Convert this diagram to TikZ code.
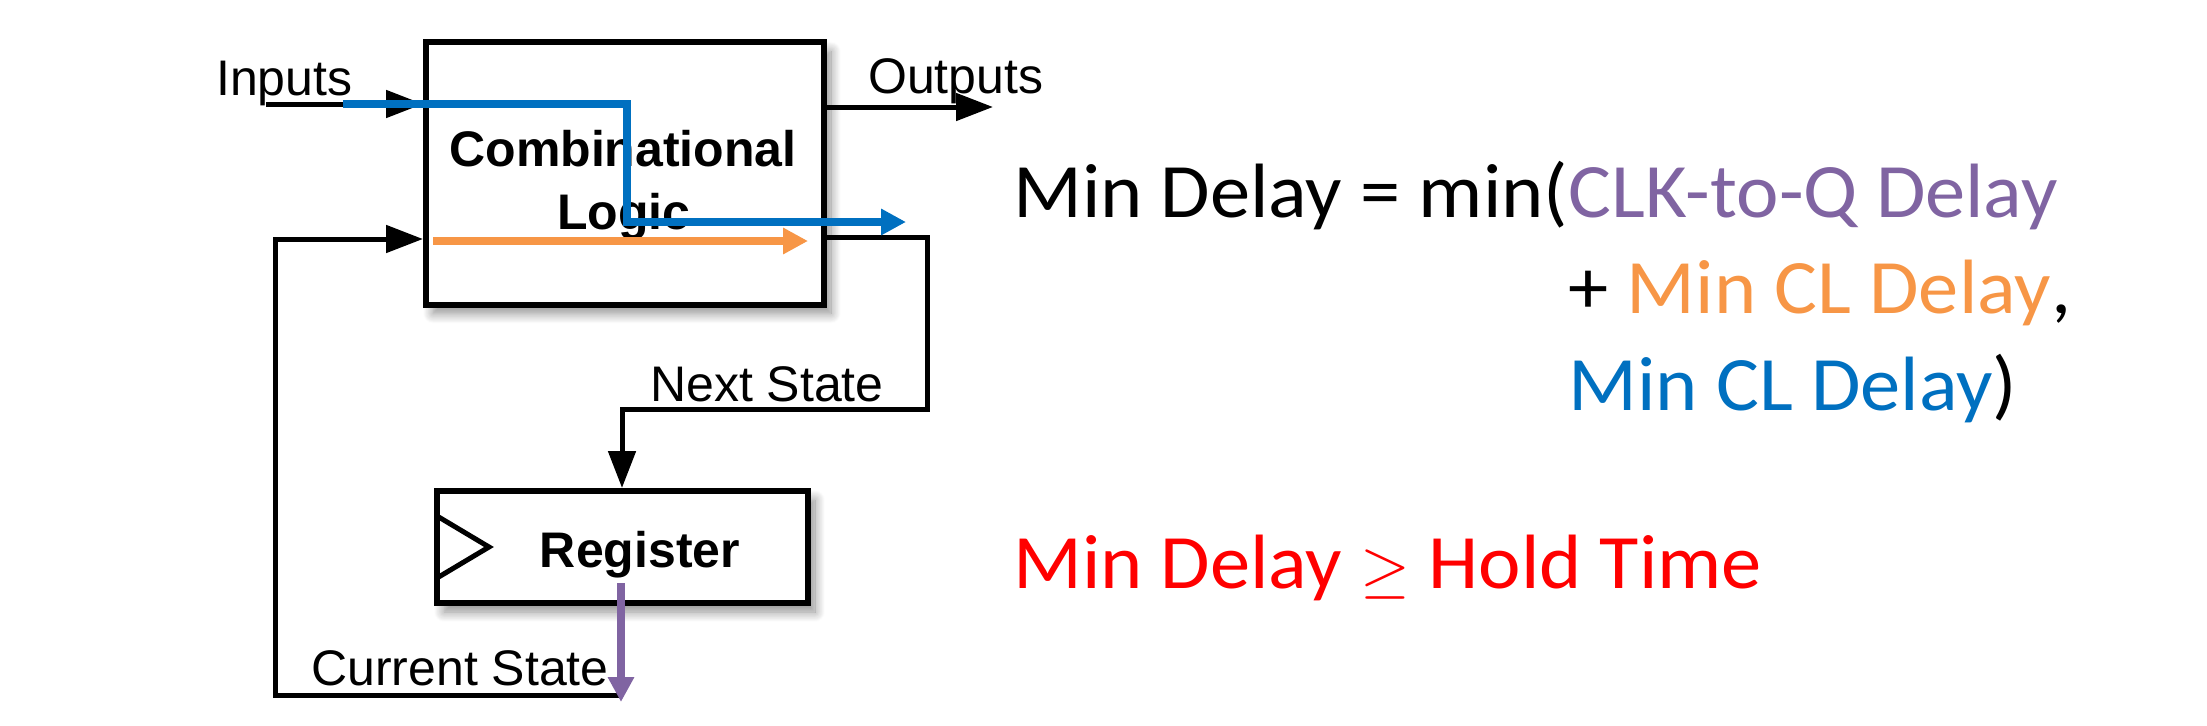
\documentclass[tikz,border=0pt]{standalone}
\usepackage{graphicx}
\usepackage{fontspec}
\setmainfont{Carlito}[FakeStretch=1.045]
\newfontfamily\helv{Liberation Sans}
\usetikzlibrary{arrows.meta,shadows.blur}
\definecolor{cpurple}{HTML}{8064A2}
\definecolor{corange}{HTML}{F79646}
\definecolor{cblue}{HTML}{0070C0}
\newcommand{\biggeq}{\raisebox{-2pt}{\scalebox{6.4}{\fontsize{10}{12}\selectfont$\geq$}}}
\begin{document}
\begin{tikzpicture}[x=1pt,y=-1pt,
  box/.style={draw, line width=6pt, fill=white, inner sep=0pt,
    blur shadow={shadow xshift=7pt, shadow yshift=-9pt, shadow blur steps=12, shadow blur radius=10pt, shadow opacity=45}},
  wire/.style={line width=5pt},
  blk/.style={-{Triangle[length=37pt,width=27pt]}},
  colarrow/.style={line width=8pt, -{Triangle[length=25pt,width=25pt]}},
  lab/.style={font=\helv\fontsize{50}{60}\selectfont, inner sep=0pt, anchor=base west},
  blab/.style={font=\helv\bfseries\fontsize{50}{60}\selectfont, inner sep=0pt, anchor=base},
  rt/.style={font=\fontsize{77}{92}\selectfont, inner sep=0pt, anchor=base west}]
\useasboundingbox (0,0) rectangle (2207,725);

% boxes
\node[box, minimum width=398pt, minimum height=262pt] (comb) at (625,173.5) {};
\node[box, minimum width=371pt, minimum height=112pt] (reg) at (622.5,547) {};
\node[blab] (combA) at (623,166) {Combinational};
\node[blab] (combB) at (624,229) {Logic};
\node[blab] (regtxt) at (640,567) {Register};
% clock triangle
\draw[line width=5pt, line join=miter] (437,516) -- (489,547) -- (437,578);

% labels
\node[lab] (inlab) at (216,95) {Inputs};
\node[lab] (outlab) at (868,93) {Outputs};
\node[lab] (nslab) at (650,401) {Next State};
\node[lab] (cslab) at (311,685) {Current State};

% coordinates
\coordinate (inS) at (266,104);
\coordinate (outE) at (993,107);
\coordinate (ns1) at (927,237);
\coordinate (ns2) at (927,409);
\coordinate (ns3) at (622,409);
\coordinate (fbY) at (0,695);
\coordinate (fb2) at (275,695);
\coordinate (fb3) at (275,239);

% black wires
\draw[wire,blk] (inS) -- (inS -| comb.west);
\draw[wire,blk] (comb.east |- outE) -- (outE);
\draw[wire,blk] (comb.east |- ns1) -- (ns1) -- (ns2) -- (ns3) -- (reg.north -| ns3);
\draw[wire,blk] (reg.south |- fbY) -- (fb2) -- (fb3) -- (fb3 -| comb.west);

% coloured paths
\coordinate (bl1) at (343,104);
\coordinate (bl2) at (627,104);
\coordinate (bl3) at (627,222);
\coordinate (bl4) at (906,222);
\draw[colarrow, cblue, line join=miter] (bl1) -- (bl2) -- (bl3) -- (bl4);
\coordinate (or1) at (433,241);
\coordinate (or2) at (808,241);
\draw[colarrow, corange] (or1) -- (or2);
\coordinate (pu1) at (621,583);
\coordinate (pu2) at (621,702);
\draw[colarrow, cpurple] (pu1) -- (pu2);

% equations
\node[rt] (eq1) at (1013,217) {Min Delay = min(};
\node[rt, text=cpurple] (eq1b) at (eq1.base east) {CLK-to-Q Delay};
\coordinate (y2) at (0,313);
\coordinate (y3) at (0,410);
\node[rt] (eq2) at (eq1b.base west |- y2) {+ \textcolor{corange}{Min CL Delay},};
\node[rt] (eq3) at (eq1b.base west |- y3) {\textcolor{cblue}{Min CL Delay})};
\node[rt, text=red] (eq4) at (1013,588) {Min Delay \biggeq{} Hold Time};
\end{tikzpicture}
\end{document}
